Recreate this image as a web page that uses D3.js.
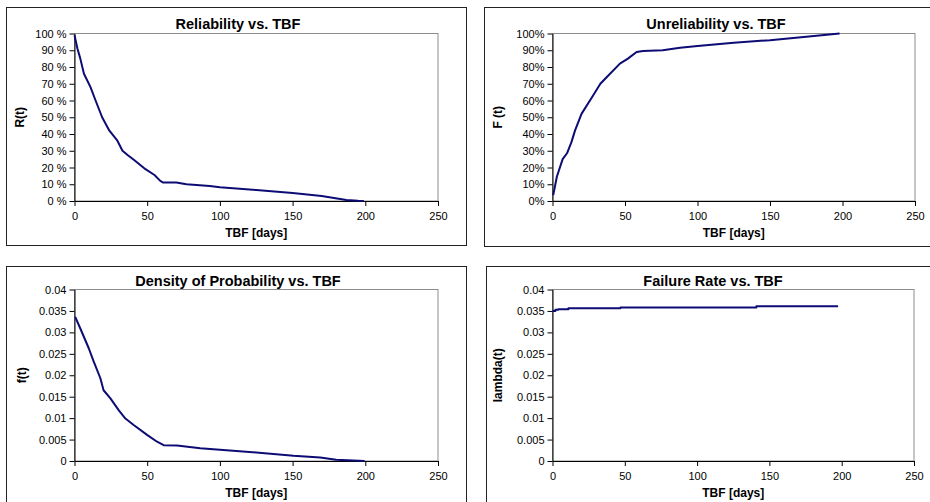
<!DOCTYPE html>
<html>
<head>
<meta charset="utf-8">
<script src="https://cdn.jsdelivr.net/npm/d3@7"></script>
<style>
  body { margin: 0; background: #fff; }
  svg { display: block; font-family: "Liberation Sans", Arial, sans-serif; }
</style>
</head>
<body>
<svg id="chart" width="930" height="502"></svg>
<script>
// values
const relTbf = [0, 2, 4, 6.5, 11, 14.5, 19, 24, 29.5, 33, 36.5, 41, 48, 55, 59, 61, 70, 77, 93, 100, 125, 150, 170, 187, 195, 199];
const relValues = [0.99, 0.91, 0.85, 0.76, 0.68, 0.60, 0.50, 0.42, 0.36, 0.30, 0.275, 0.245, 0.195, 0.155, 0.12, 0.11, 0.11, 0.10, 0.09, 0.082, 0.065, 0.048, 0.03, 0.006, 0.001, 0];

const unrelTbf = [0.5, 3, 7, 10, 13, 15.5, 20, 28, 33, 37.5, 46.5, 52, 58, 62.5, 76, 88, 100, 125, 150, 175, 198];
const unrelValues = [0.035, 0.145, 0.25, 0.285, 0.35, 0.42, 0.52, 0.63, 0.70, 0.74, 0.82, 0.85, 0.89, 0.895, 0.90, 0.915, 0.925, 0.945, 0.96, 0.98, 1.0];

const densTbf = [0.5, 4, 9.8, 13.3, 17.8, 20, 24.7, 30.5, 35, 40.7, 49.9, 56.8, 61.3, 70.5, 86.5, 100, 125, 150.6, 169, 180, 199.5];
const densValues = [0.0336, 0.0309, 0.0263, 0.0231, 0.0193, 0.0165, 0.0146, 0.0118, 0.0099, 0.0084, 0.0061, 0.0045, 0.0037, 0.0036, 0.003, 0.0026, 0.002, 0.0012, 0.0008, 0.0003, 0];

const lambdaTbf = [0, 2, 4, 11, 47, 141, 197.5];
const lambdaValues = [0.0350, 0.0353, 0.0354, 0.0356, 0.0358, 0.0361, 0.0361];

const xTicks = [0, 50, 100, 150, 200, 250];
const pctTicks = [0, 0.1, 0.2, 0.3, 0.4, 0.5, 0.6, 0.7, 0.8, 0.9, 1.0];
const smallTicks = [0, 0.005, 0.01, 0.015, 0.02, 0.025, 0.03, 0.035, 0.04];

const LINE_COLOR = '#0c0c74';
const svg = d3.select('#chart');

drawPanel({
    box: [6.5, 7.5, 460, 238],
    plot: [74.5, 33.5, 438, 201],
    title: 'Reliability vs. TBF', titleX: 238, titleY: 29,
    yTitle: 'R(t)', yTitleX: 20,
    xs: relTbf, ys: relValues,
    yMax: 1, yTicks: pctTicks, yFormat: d => Math.round(d * 100) + ' %',
    curve: d3.curveLinear
});

drawPanel({
    box: [484.5, 7.5, 460, 239],
    plot: [552.5, 33.5, 915, 201],
    title: 'Unreliability vs. TBF', titleX: 716, titleY: 29,
    yTitle: 'F (t)', yTitleX: 498,
    xs: unrelTbf, ys: unrelValues,
    yMax: 1, yTicks: pctTicks, yFormat: d => Math.round(d * 100) + '%',
    curve: d3.curveLinear
});

drawPanel({
    box: [6.5, 266.5, 460, 260],
    plot: [74.5, 289.5, 438, 461],
    title: 'Density of Probability vs. TBF', titleX: 238, titleY: 286,
    yTitle: 'f(t)', yTitleX: 22,
    xs: densTbf, ys: densValues,
    yMax: 0.04, yTicks: smallTicks, yFormat: d => String(+d.toFixed(4)),
    curve: d3.curveLinear
});

drawPanel({
    box: [486.5, 266.5, 460, 260],
    plot: [552.5, 289.5, 914, 461],
    title: 'Failure Rate vs. TBF', titleX: 713, titleY: 286,
    yTitle: 'lambda(t)', yTitleX: 498,
    xs: lambdaTbf, ys: lambdaValues,
    yMax: 0.04, yTicks: smallTicks, yFormat: d => String(+d.toFixed(4)),
    curve: d3.curveStepAfter
});

function drawPanel(cfg) {
    const [bx, by, bw, bh] = cfg.box;
    const [left, top, right, bottom] = cfg.plot;

    // chart area border
    svg.append('rect')
        .attr('x', bx).attr('y', by)
        .attr('width', bw).attr('height', bh)
        .attr('fill', '#fff')
        .attr('stroke', '#222')
        .attr('stroke-width', 1);

    const x = d3.scaleLinear().domain([0, 250]).range([left, right]);
    const y = d3.scaleLinear().domain([0, cfg.yMax]).range([bottom, top]);

    // plot area frame (gray on top / right)
    svg.append('rect')
        .attr('x', left).attr('y', top)
        .attr('width', right - left).attr('height', bottom - top)
        .attr('fill', 'none')
        .attr('stroke', '#8c8c8c')
        .attr('stroke-width', 1);

    const xAxis = svg.append('g')
        .attr('transform', `translate(0,${bottom})`)
        .call(d3.axisBottom(x).tickValues(xTicks).tickSize(5).tickPadding(6).tickSizeOuter(0));
    const yAxis = svg.append('g')
        .attr('transform', `translate(${left},0)`)
        .call(d3.axisLeft(y).tickValues(cfg.yTicks).tickFormat(cfg.yFormat).tickSize(5).tickPadding(3).tickSizeOuter(0));

    [xAxis, yAxis].forEach(g => {
        g.select('.domain').attr('stroke', '#000');
        g.selectAll('.tick line').attr('stroke', '#000');
        g.selectAll('.tick text')
            .attr('fill', '#000')
            .style('font-size', '11px')
            .style('font-family', '"Liberation Sans", Arial, sans-serif');
    });

    const line = d3.line()
        .x((d, i) => x(cfg.xs[i]))
        .y(d => y(d))
        .curve(cfg.curve);

    svg.append('path')
        .datum(cfg.ys)
        .attr('d', line)
        .attr('fill', 'none')
        .attr('stroke', LINE_COLOR)
        .attr('stroke-width', 2)
        .attr('stroke-linejoin', 'round');

    svg.append('text')
        .attr('x', cfg.titleX).attr('y', cfg.titleY)
        .attr('text-anchor', 'middle')
        .style('font-size', '14.5px').style('font-weight', 'bold')
        .text(cfg.title);

    svg.append('text')
        .attr('x', (left + right) / 2).attr('y', bottom + 36)
        .attr('text-anchor', 'middle')
        .style('font-size', '12px').style('font-weight', 'bold')
        .text('TBF [days]');

    svg.append('text')
        .attr('transform', `translate(${cfg.yTitleX},${(top + bottom) / 2}) rotate(-90)`)
        .attr('text-anchor', 'middle')
        .attr('dy', '0.35em')
        .style('font-size', '12px').style('font-weight', 'bold')
        .text(cfg.yTitle);
}
</script>
</body>
</html>
